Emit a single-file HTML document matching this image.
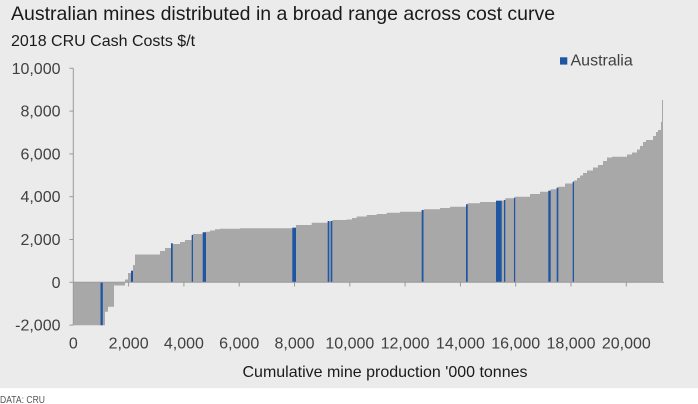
<!DOCTYPE html>
<html>
<head>
<meta charset="utf-8">
<style>
html,body{margin:0;padding:0;background:#ffffff;}
svg{display:block;}
text{font-family:"Liberation Sans",Arial,sans-serif;}
</style>
</head>
<body>
<svg width="698" height="404" viewBox="0 0 698 404" xmlns="http://www.w3.org/2000/svg">
  <rect x="0" y="0" width="698" height="388.3" fill="#ebebeb"/>
  <rect x="0" y="388.3" width="698" height="16" fill="#ffffff"/>

  <!-- titles -->
  <text x="11" y="20" font-size="19.5" fill="#1a1a1a">Australian mines distributed in a broad range across cost curve</text>
  <text x="11" y="46" font-size="16" fill="#1a1a1a">2018 CRU Cash Costs $/t</text>

  <!-- legend -->
  <rect x="560" y="57.3" width="7.3" height="7.3" fill="#1f56a3"/>
  <text x="570.5" y="65.6" font-size="16" fill="#404040">Australia</text>

  <!-- gray cost curve -->
  <path fill="#a8a8a8" d="M73.3,282.3 V325.2 H105 V311.7 H108 V306.7 H114 V285.5 H125 V282.3 Z"/>
  <path fill="#a8a8a8" d="M125,282.3 V279.5 H128 V273 H131 V270.7 H133 V265 H135 V254.5 H160 V251 H165 V248 H171 V243.3 H172.7 V244 H180 V242 H185 V240 H191.7 V235 H192.7 V234 H202.7 V232.3 H206 V231.7 H210 V230.5 H215 V229.3 H220 V228.7 H240 V228.3 H292.3 V227.7 H296 V225 H311.7 V222.7 H327.7 V221 H329.3 V221.5 H330.7 V221 H332.3 V220 H346.7 V219.5 H352 V218 H356.7 V216.5 H366.7 V215 H376.7 V214 H386.7 V212.7 H400 V211.7 H421.7 V210 H423.7 V209.3 H440 V208 H450 V206.7 H466 V204.3 H467.7 V203.3 H480 V202 H496 V200.7 H501.7 V200.5 H504 V200 H505.3 V198.3 H514 V197.7 H515 V196.7 H530 V194 H540 V191.7 H548.3 V190.7 H550.7 V189.3 H556.7 V187.7 H558.3 V186.7 H565 V183.5 H572.7 V181.7 H574 V180.5 H577 V178 H580 V175.5 H583 V173 H587 V170.5 H593 V167.5 H598 V165 H603 V161 H607 V157.5 H612 V156.7 H627 V154.5 H632 V152.5 H637 V149.5 H640 V146 H643 V142 H646 V140 H653 V136 H656 V132 H658 V130 H661 V122 H662 V100 H663 V282.3 Z"/>

  <!-- Australia bars -->
  <g fill="#1f56a3">
    <rect x="100.5" y="282.3" width="2.3" height="42.9"/>
    <rect x="131" y="270.7" width="2" height="11.6"/>
    <rect x="171" y="243.3" width="1.7" height="39"/>
    <rect x="191.7" y="235" width="1.3" height="47.3"/>
    <rect x="202.7" y="232.3" width="3.3" height="50"/>
    <rect x="292.3" y="227.7" width="3.7" height="54.6"/>
    <rect x="327.7" y="221" width="1.6" height="61.3"/>
    <rect x="330.7" y="221" width="1.6" height="61.3"/>
    <rect x="421.7" y="210" width="1.8" height="72.3"/>
    <rect x="466" y="204.3" width="1.7" height="78"/>
    <rect x="496" y="200.7" width="5.7" height="81.6"/>
    <rect x="504" y="200" width="1.3" height="82.3"/>
    <rect x="514" y="197.7" width="1.2" height="84.6"/>
    <rect x="548.3" y="190.7" width="2.4" height="91.6"/>
    <rect x="556.7" y="187.7" width="1.6" height="94.6"/>
    <rect x="572.7" y="181.7" width="1.3" height="100.6"/>
  </g>

  <!-- axes -->
  <g stroke="#9a9a9a" stroke-width="1" fill="none">
    <line x1="73.3" y1="68.3" x2="73.3" y2="325.2"/>
    <line x1="73.3" y1="282.3" x2="664" y2="282.3"/>
    <!-- y ticks -->
    <line x1="69.5" y1="68.3" x2="73.3" y2="68.3"/>
    <line x1="69.5" y1="111.1" x2="73.3" y2="111.1"/>
    <line x1="69.5" y1="153.9" x2="73.3" y2="153.9"/>
    <line x1="69.5" y1="196.7" x2="73.3" y2="196.7"/>
    <line x1="69.5" y1="239.5" x2="73.3" y2="239.5"/>
    <line x1="69.5" y1="282.3" x2="73.3" y2="282.3"/>
    <line x1="69.5" y1="325.1" x2="73.3" y2="325.1"/>
    <!-- x ticks -->
    <line x1="128.6" y1="282.3" x2="128.6" y2="286.5"/>
    <line x1="183.9" y1="282.3" x2="183.9" y2="286.5"/>
    <line x1="239.2" y1="282.3" x2="239.2" y2="286.5"/>
    <line x1="294.5" y1="282.3" x2="294.5" y2="286.5"/>
    <line x1="349.8" y1="282.3" x2="349.8" y2="286.5"/>
    <line x1="405.1" y1="282.3" x2="405.1" y2="286.5"/>
    <line x1="460.4" y1="282.3" x2="460.4" y2="286.5"/>
    <line x1="515.7" y1="282.3" x2="515.7" y2="286.5"/>
    <line x1="571" y1="282.3" x2="571" y2="286.5"/>
    <line x1="626.3" y1="282.3" x2="626.3" y2="286.5"/>
  </g>

  <!-- y labels -->
  <g font-size="16" fill="#404040" text-anchor="end">
    <text x="60.5" y="73.8">10,000</text>
    <text x="60.5" y="116.6">8,000</text>
    <text x="60.5" y="159.4">6,000</text>
    <text x="60.5" y="202.2">4,000</text>
    <text x="60.5" y="245">2,000</text>
    <text x="60.5" y="287.8">0</text>
    <text x="60.5" y="330.6">-2,000</text>
  </g>

  <!-- x labels -->
  <g font-size="16" fill="#404040" text-anchor="middle">
    <text x="73.3" y="348.3">0</text>
    <text x="128.6" y="348.3">2,000</text>
    <text x="183.9" y="348.3">4,000</text>
    <text x="239.2" y="348.3">6,000</text>
    <text x="294.5" y="348.3">8,000</text>
    <text x="349.8" y="348.3">10,000</text>
    <text x="405.1" y="348.3">12,000</text>
    <text x="460.4" y="348.3">14,000</text>
    <text x="515.7" y="348.3">16,000</text>
    <text x="571" y="348.3">18,000</text>
    <text x="626.3" y="348.3">20,000</text>
  </g>

  <text x="385" y="377" font-size="16" fill="#1a1a1a" text-anchor="middle">Cumulative mine production '000 tonnes</text>

  <text x="0" y="403" font-size="10" fill="#555555" textLength="45" lengthAdjust="spacingAndGlyphs">DATA: CRU</text>
</svg>
</body>
</html>
